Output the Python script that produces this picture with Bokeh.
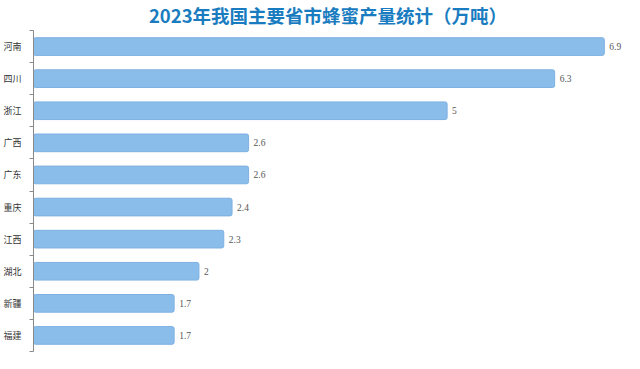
from bokeh.plotting import figure
from bokeh.models import ColumnDataSource, Range1d, FixedTicker, LabelSet
from bokeh.embed import file_html
from bokeh.resources import INLINE

provinces = ["河南", "四川", "浙江", "广西", "广东", "重庆", "江西", "湖北", "新疆", "福建"]
values = [6.9, 6.3, 5, 2.6, 2.6, 2.4, 2.3, 2, 1.7, 1.7]
value_labels = ["6.9", "6.3", "5", "2.6", "2.6", "2.4", "2.3", "2", "1.7", "1.7"]
title_text = "2023年我国主要省市蜂蜜产量统计（万吨）"

idx = list(range(len(provinces)))
src = ColumnDataSource(dict(y=idx, v=values, lab=value_labels, name=provinces))

FONT = "Noto Sans CJK SC"

p = figure(width=624, height=353, output_backend="svg", toolbar_location=None,
           x_range=Range1d(0, 7.12), y_range=Range1d(len(provinces) - 0.5, -0.5),
           x_axis_location=None,
           min_border_left=24, min_border_right=2, min_border_top=18, min_border_bottom=2)

p.title.text = title_text
p.title.align = "center"
p.title.vertical_align = "top"
p.title.text_font = FONT
p.title.text_font_size = "18.5px"
p.title.text_font_style = "bold"
p.title.text_color = "#1a7cc0"
p.title.offset = 0
p.title.standoff = 2

p.hbar(y="y", right="v", left=0, height=0.55, source=src,
       fill_color="#8bbdeb", line_color="#7db0e2", line_width=1,
       border_radius=2)

labels = LabelSet(x="v", y="y", text="lab", source=src, x_offset=5,
                  text_align="left", text_baseline="middle",
                  text_font="Liberation Sans", text_font_size="9.5px", text_color="#555555")
p.add_layout(labels)

p.xgrid.visible = False
p.ygrid.visible = False
p.outline_line_color = None

ax = p.yaxis[0]
ax.ticker = FixedTicker(ticks=idx, minor_ticks=[i - 0.5 for i in range(len(provinces) + 1)])
ax.major_label_overrides = {i: n for i, n in enumerate(provinces)}
ax.major_tick_line_color = None
ax.minor_tick_line_color = "#8a8a8a"
ax.minor_tick_out = 4
ax.minor_tick_in = 0
ax.axis_line_color = "#8a8a8a"
ax.major_label_text_font = FONT
ax.major_label_text_font_size = "9px"
ax.major_label_text_color = "#333333"
ax.major_label_standoff = 6

p.background_fill_color = "white"
p.border_fill_color = "white"

open("out.html", "w").write(file_html(p, INLINE))
